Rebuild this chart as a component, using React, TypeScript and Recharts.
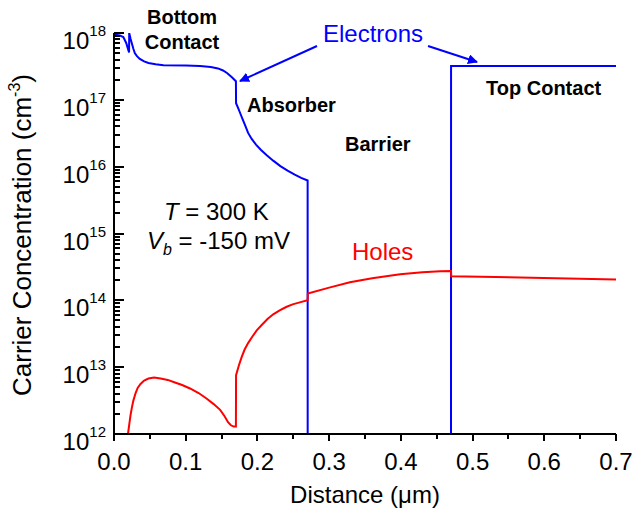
import { Line, LineChart, XAxis, YAxis } from 'recharts'

// distance in µm, concentration in cm^-3
const electronDist = [
  0, 0.008, 0.013, 0.017, 0.021, 0.0212, 0.023, 0.025, 0.027, 0.029, 0.032, 0.036, 0.042, 0.048, 0.058, 0.069,
  0.1, 0.12, 0.135, 0.145, 0.152, 0.158, 0.164, 0.17,
  0.1702, 0.173, 0.176, 0.179, 0.183, 0.187, 0.192, 0.198, 0.205, 0.213, 0.222, 0.232, 0.242, 0.252, 0.261, 0.27,
  0.2701, 0.4699, 0.47, 0.7,
]
const electronConc = [
  9.5e17, 9.2e17, 8.7e17, 7.1e17, 5.1e17, 1.0e18, 8.3e17, 6.9e17, 5.8e17, 5.0e17, 4.5e17, 4.1e17, 3.75e17, 3.55e17, 3.4e17, 3.3e17,
  3.25e17, 3.2e17, 3.1e17, 2.95e17, 2.75e17, 2.5e17, 2.2e17, 1.9e17,
  8.9e16, 7.6e16, 6.3e16, 5.25e16, 4.1e16, 3.2e16, 2.6e16, 2.14e16, 1.78e16, 1.48e16, 1.23e16, 1.02e16, 8.7e15, 7.6e15, 6.8e15, 6.2e15,
  1e10, 1e10, 3.2e17, 3.2e17,
]

const holeDist = [
  0.0195, 0.021, 0.023, 0.025, 0.027, 0.03, 0.033, 0.037, 0.042, 0.048, 0.056, 0.065,
  0.075, 0.085, 0.095, 0.106, 0.118, 0.129, 0.139, 0.148, 0.154, 0.159, 0.163, 0.167, 0.17,
  0.1702, 0.174, 0.178, 0.182, 0.187, 0.193, 0.199, 0.206, 0.214, 0.222, 0.231, 0.24, 0.249, 0.259, 0.27,
  0.2702, 0.3, 0.329, 0.36, 0.399, 0.43, 0.455, 0.47, 0.4702, 0.7,
]
const holeConc = [
  1.0e12, 1.32e12, 1.9e12, 2.5e12, 3.16e12, 4.07e12, 4.9e12, 5.6e12, 6.3e12, 6.76e12, 7.0e12, 6.76e12,
  6.45e12, 5.9e12, 5.4e12, 4.8e12, 4.1e12, 3.4e12, 2.8e12, 2.3e12, 1.86e12, 1.5e12, 1.35e12, 1.29e12, 1.29e12,
  7.6e12, 1.05e13, 1.41e13, 1.82e13, 2.29e13, 2.88e13, 3.55e13, 4.27e13, 5.25e13, 6.17e13, 7.08e13, 7.94e13, 8.71e13, 9.33e13, 1.0e14,
  1.26e14, 1.55e14, 1.86e14, 2.14e14, 2.45e14, 2.63e14, 2.72e14, 2.75e14, 2.3e14, 2.05e14,
]

const xTicks = [0, 0.05, 0.1, 0.15, 0.2, 0.25, 0.3, 0.35, 0.4, 0.45, 0.5, 0.55, 0.6, 0.65, 0.7]
const yTicks = [
  1e12, 2e12, 3e12, 4e12, 5e12, 6e12, 7e12, 8e12, 9e12,
  1e13, 2e13, 3e13, 4e13, 5e13, 6e13, 7e13, 8e13, 9e13,
  1e14, 2e14, 3e14, 4e14, 5e14, 6e14, 7e14, 8e14, 9e14,
  1e15, 2e15, 3e15, 4e15, 5e15, 6e15, 7e15, 8e15, 9e15,
  1e16, 2e16, 3e16, 4e16, 5e16, 6e16, 7e16, 8e16, 9e16,
  1e17, 2e17, 3e17, 4e17, 5e17, 6e17, 7e17, 8e17, 9e17,
  1e18,
]

const electrons = electronDist.map((x, i) => ({ x, n: electronConc[i] }))
const holes = holeDist.map((x, i) => ({ x, p: holeConc[i] }))

const FONT = '"Liberation Sans", Arial, sans-serif'

// x ticks hang below the axis, labels only on the tenths
function XTick({ x, y, payload }: any) {
  const v = payload.value as number
  const major = Math.abs(v * 10 - Math.round(v * 10)) < 1e-6
  return (
    <g>
      <line x1={x} x2={x} y1={y} y2={y + (major ? 7 : 5)} stroke="#000" strokeWidth={2} shapeRendering="crispEdges" />
      {major && (
        <text x={x} y={y + 36} textAnchor="middle" fontSize={24} fontFamily={FONT} fill="#000">
          {v.toFixed(1)}
        </text>
      )}
    </g>
  )
}

// log ticks point into the plot; decades get a 10^n label
function YTick({ x, y, payload }: any) {
  const v = payload.value as number
  const lg = Math.log10(v)
  const e = Math.round(lg)
  const major = Math.abs(lg - e) < 1e-6
  return (
    <g>
      <line x1={x} x2={x + (major ? 10 : 6)} y1={y} y2={y} stroke="#000" strokeWidth={2} shapeRendering="crispEdges" />
      {major && (
        <text x={x - 8} y={y + 16} textAnchor="end" fontSize={24} fontFamily={FONT} fill="#000">
          10
          <tspan dy={-13} fontSize={15}>
            {e}
          </tspan>
        </text>
      )}
    </g>
  )
}

export default function App() {
  return (
    <div style={{ position: 'absolute', left: 0, top: 0, width: 634, height: 516, background: '#fff' }}>
      <LineChart width={634} height={516} margin={{ top: 33, right: 18, bottom: 0, left: 0 }}>
        <XAxis
          dataKey="x"
          type="number"
          domain={[0, 0.7]}
          allowDataOverflow
          ticks={xTicks}
          interval={0}
          height={82}
          tickSize={0}
          tickMargin={0}
          tick={<XTick />}
          axisLine={{ stroke: '#000', strokeWidth: 2 }}
        />
        <YAxis
          scale="log"
          domain={[1e12, 1e18]}
          allowDataOverflow
          ticks={yTicks}
          interval={0}
          width={114}
          tickSize={0}
          tickMargin={0}
          tick={<YTick />}
          axisLine={{ stroke: '#000', strokeWidth: 2 }}
        />
        <Line
          data={electrons}
          dataKey="n"
          type="linear"
          stroke="#0000ff"
          strokeWidth={2}
          dot={false}
          isAnimationActive={false}
        />
        <Line
          data={holes}
          dataKey="p"
          type="linear"
          stroke="#ff0000"
          strokeWidth={2}
          dot={false}
          isAnimationActive={false}
        />
      </LineChart>

      {/* titles and region annotations */}
      <svg
        width={634}
        height={516}
        style={{ position: 'absolute', left: 0, top: 0, pointerEvents: 'none' }}
        fontFamily={FONT}
      >
        <defs>
          <marker id="arrowHead" viewBox="0 0 10 10" refX="9" refY="5" markerWidth="5" markerHeight="5" orient="auto">
            <path d="M0,0 L10,5 L0,10 z" fill="#0000ff" />
          </marker>
        </defs>

        <text x={365} y={503} textAnchor="middle" fontSize={24} fill="#000">
          Distance (μm)
        </text>
        <text transform="translate(31,235) rotate(-90)" textAnchor="middle" fontSize={26} fill="#000">
          Carrier Concentration (cm
          <tspan dy={-11} fontSize={16}>-3</tspan>
          <tspan dy={11}>)</tspan>
        </text>

        <g fontWeight="bold" fontSize={20} fill="#000">
          <text x={182} y={24} textAnchor="middle">Bottom</text>
          <text x={182} y={49} textAnchor="middle">Contact</text>
          <text x={247} y={112}>Absorber</text>
          <text x={345} y={151}>Barrier</text>
          <text x={486} y={95}>Top Contact</text>
        </g>

        <text x={323} y={42} fontSize={24} fill="#0000ff">Electrons</text>
        <line x1={317} y1={46} x2={240} y2={81} stroke="#0000ff" strokeWidth={2} markerEnd="url(#arrowHead)" />
        <line x1={428} y1={46} x2={477} y2={62} stroke="#0000ff" strokeWidth={2} markerEnd="url(#arrowHead)" />

        <text x={352} y={260} fontSize={24} fill="#ff0000">Holes</text>

        <text x={164} y={220} fontSize={24} fill="#000">
          <tspan fontStyle="italic">T</tspan> = 300 K
        </text>
        <text x={147} y={249} fontSize={24} fill="#000">
          <tspan fontStyle="italic">V</tspan>
          <tspan fontStyle="italic" fontSize={16} dy={6}>b</tspan>
          <tspan dy={-6}> = -150 mV</tspan>
        </text>
      </svg>
    </div>
  )
}
